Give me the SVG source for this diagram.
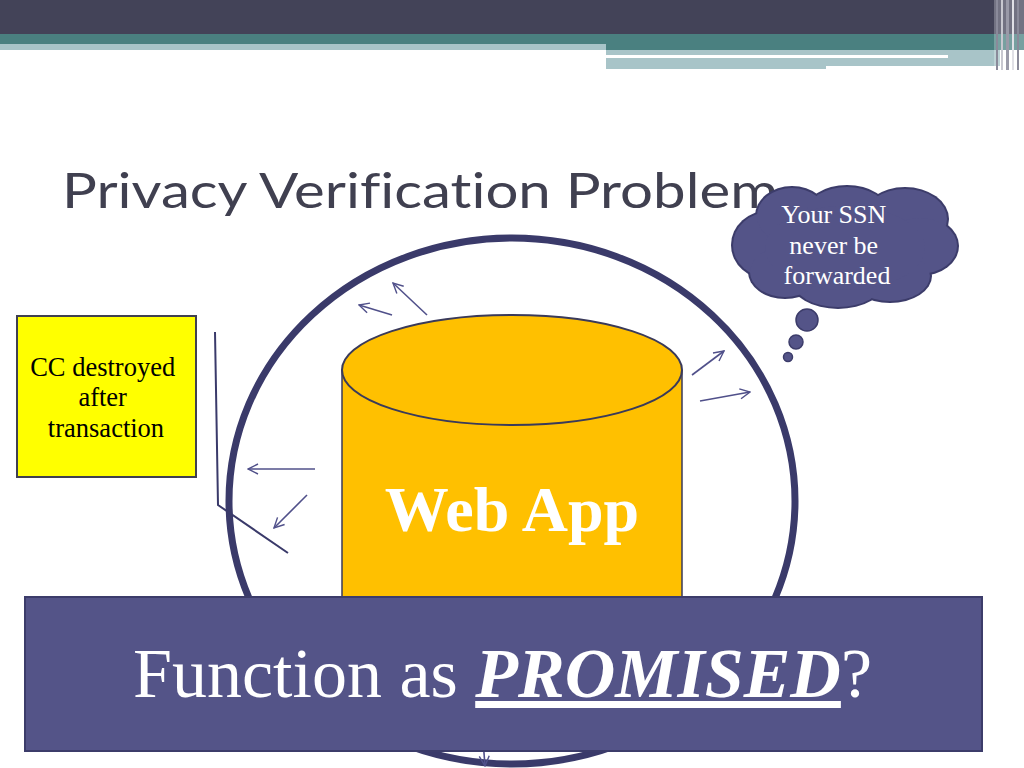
<svg xmlns="http://www.w3.org/2000/svg" width="1024" height="768" viewBox="0 0 1024 768">
<style>
.arrow{stroke:#50508a;stroke-width:1.6;fill:none;marker-end:url(#ah)}
.serif{font-family:"Liberation Serif","Times New Roman",serif}
.cloudS{fill:#3c3c6a}
.cloudF{fill:#545488}
</style>
<defs>
<marker id="ah" viewBox="0 0 12 12" refX="11" refY="6" markerWidth="12" markerHeight="12" markerUnits="userSpaceOnUse" orient="auto">
<path d="M1,1 L11,6 L1,11" fill="none" stroke="#50508a" stroke-width="1.4"/>
</marker>
</defs>
<rect width="1024" height="768" fill="#ffffff"/>
<g id="header">
<rect x="0" y="0" width="1024" height="34" fill="#434358"/>
<rect x="0" y="34" width="1024" height="16" fill="#4a8080"/>
<rect x="0" y="44" width="606" height="6" fill="#a8c4c8"/>
<rect x="606" y="50" width="394" height="16" fill="#a8c4c8"/>
<rect x="606" y="66" width="220" height="3" fill="#a8c4c8"/>
<rect x="606" y="55" width="342" height="3" fill="#ffffff"/>
<rect x="994" y="0" width="30" height="70" fill="#ffffff" opacity="0.25"/>
<rect x="996" y="0" width="2" height="70" fill="#8a8a9a"/>
<rect x="1001" y="0" width="2" height="70" fill="#c8c8d0"/>
<rect x="1006" y="0" width="3" height="70" fill="#9a9aa8"/>
<rect x="1012" y="0" width="2" height="70" fill="#e0e0e6"/>
<rect x="1017" y="0" width="2" height="70" fill="#8a8a9a"/>
</g>
<text id="title" x="62" y="208" font-family="Lato,'Liberation Sans',sans-serif" font-size="48" fill="#404050" style="font-variant-ligatures:none" textLength="716" lengthAdjust="spacingAndGlyphs">Privacy Verification Problem</text>
<g id="circle">
<ellipse cx="512" cy="501" rx="283" ry="263" fill="none" stroke="#3a3a6a" stroke-width="7"/>
</g>
<g id="connectors">
<polyline points="215,332 218,505 288,553" fill="none" stroke="#3a3a6a" stroke-width="2"/>
<line class="arrow" x1="427" y1="315" x2="393" y2="283"/>
<line class="arrow" x1="392" y1="315" x2="359" y2="305"/>
<line class="arrow" x1="315" y1="469" x2="248" y2="469"/>
<line class="arrow" x1="307" y1="495" x2="274" y2="528"/>
<line class="arrow" x1="692" y1="375" x2="724" y2="351"/>
<line class="arrow" x1="700" y1="401" x2="750" y2="392"/>
<line class="arrow" x1="483" y1="740" x2="485" y2="766"/>
</g>
<g id="webapp">
<path d="M342,370 L342,600 L682,600 L682,370" fill="#ffc000" stroke="#3a3a5a" stroke-width="1.5"/>
<ellipse cx="512" cy="370" rx="170" ry="55" fill="#ffc000" stroke="#3a3a5a" stroke-width="2"/>
<text x="512" y="531" text-anchor="middle" class="serif" font-weight="bold" font-size="64" fill="#ffffff">Web App</text>
</g>
<g id="cc-box">
<rect x="17" y="316" width="179" height="161" fill="#ffff00" stroke="#404050" stroke-width="2"/>
<text class="serif" font-size="26.5" fill="#000000" text-anchor="middle">
<tspan x="106" y="376">CC destroyed</tspan>
<tspan x="106" y="406">after</tspan>
<tspan x="106" y="437">transaction</tspan>
</text>
</g>
<g id="thought">
<g class="cloudS">
<ellipse cx="770" cy="245" rx="39" ry="35"/>
<ellipse cx="792" cy="216" rx="37" ry="30"/>
<ellipse cx="847" cy="212" rx="42" ry="27"/>
<ellipse cx="905" cy="219" rx="44" ry="32"/>
<ellipse cx="920" cy="246" rx="39" ry="30"/>
<ellipse cx="890" cy="276" rx="42" ry="27"/>
<ellipse cx="838" cy="281" rx="47" ry="28"/>
<ellipse cx="785" cy="272" rx="37" ry="27"/>
</g>
<g class="cloudF">
<ellipse cx="770" cy="245" rx="37" ry="33"/>
<ellipse cx="792" cy="216" rx="35" ry="28"/>
<ellipse cx="847" cy="212" rx="40" ry="25"/>
<ellipse cx="905" cy="219" rx="42" ry="30"/>
<ellipse cx="920" cy="246" rx="37" ry="28"/>
<ellipse cx="890" cy="276" rx="40" ry="25"/>
<ellipse cx="838" cy="281" rx="45" ry="26"/>
<ellipse cx="785" cy="272" rx="35" ry="25"/>
<ellipse cx="845" cy="248" rx="80" ry="42"/>
</g>
<circle cx="807" cy="320" r="11" fill="#545488" stroke="#3c3c6a" stroke-width="1.5"/>
<circle cx="796" cy="342" r="7" fill="#545488" stroke="#3c3c6a" stroke-width="1.5"/>
<circle cx="788" cy="357" r="4.5" fill="#545488" stroke="#3c3c6a" stroke-width="1.5"/>
<text class="serif" font-size="26" fill="#ffffff" text-anchor="middle">
<tspan x="837" y="223">Your SSN</tspan>
<tspan x="837" y="254">never be</tspan>
<tspan x="837" y="284">forwarded</tspan>
</text>
</g>
<g id="question-box">
<rect x="25" y="597" width="957" height="154" fill="#545488" stroke="#3c3c6a" stroke-width="2"/>
<text x="133" y="697" class="serif" font-size="70" fill="#ffffff">Function as <tspan font-weight="bold" font-style="italic" text-decoration="underline">PROMISED</tspan>?</text>
</g>
</svg>
